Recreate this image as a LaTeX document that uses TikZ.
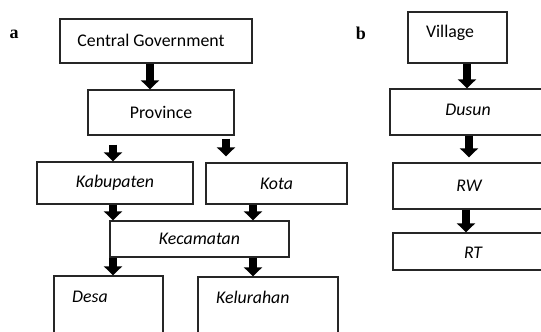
\documentclass[tikz,border=0pt]{standalone}
\usepackage{fontspec}
\setmainfont{Carlito}
\newfontfamily\labfont{Liberation Serif}
\usetikzlibrary{arrows.meta}
\begin{document}
\begin{tikzpicture}[x=1pt,y=-1pt,
  box/.style={draw=black!85, line width=1.4pt, rectangle, inner sep=0pt},
  txt/.style={font=\fontsize{17.8}{20}\selectfont, inner sep=0pt},
  itxt/.style={font=\fontsize{17.8}{20}\selectfont\itshape, inner sep=0pt},
  blk/.style={line width=7.5pt, -{Triangle[width=18pt,length=9pt]}, black},
  panel/.style={font=\labfont\bfseries\fontsize{18}{20}\selectfont, inner sep=0pt}]
\useasboundingbox (0,0) rectangle (541,332);
\clip (0,0) rectangle (541,332);
% panel labels
\node[panel] (la) at (14,34) {a};
\node[panel] (lb) at (361,33) {b};
% panel a boxes
\node[box, minimum width=192pt, minimum height=44pt] (cg) at (156,41) {};
\node[txt] (cgt) at (151,40) {Central Government};
\node[box, minimum width=146pt, minimum height=45pt, txt] (prov) at (161,112.5) {Province};
\node[box, minimum width=156pt, minimum height=42pt, itxt] (kab) at (115,183) {Kabupaten};
\node[box, minimum width=141pt, minimum height=41pt, itxt] (kota) at (276.5,183.5) {Kota};
\node[box, minimum width=179pt, minimum height=36pt, itxt] (kec) at (199.5,239) {Kecamatan};
\node[box, minimum width=109pt, minimum height=74pt] (desa) at (108.5,313) {};
\node[itxt, anchor=west] (desat) at (72,297) {Desa};
\node[box, minimum width=140pt, minimum height=73pt] (kel) at (268,313.5) {};
\node[itxt, anchor=west] (kelt) at (216,297) {Kelurahan};
% panel a arrows
\draw[blk] ([xshift=-6pt]cg.south) -- ([xshift=-11pt]prov.north);
\draw[blk] ([xshift=-48pt,yshift=-9pt]prov.south) -- ([xshift=-2pt]kab.north);
\draw[blk] ([xshift=65pt,yshift=-3pt]prov.south) -- ([xshift=-50.5pt,yshift=6pt]kota.north);
\draw[blk] ([xshift=-2pt]kab.south) -- ([xshift=-86.5pt]kec.north);
\draw[blk] ([xshift=-23.5pt]kota.south) -- ([xshift=53.5pt]kec.north);
\draw[blk] ([xshift=-86.5pt]kec.south) -- ([xshift=4.5pt]desa.north);
\draw[blk] ([xshift=53.5pt]kec.south) -- ([xshift=-15pt]kel.north);
% panel b boxes
\node[box, minimum width=99pt, minimum height=51pt] (vil) at (457.5,37.5) {};
\node[txt] (vilt) at (450,33) {Village};
\node[box, minimum width=170pt, minimum height=46pt] (dus) at (475,112) {};
\node[itxt] (dust) at (468,110) {Dusun};
\node[box, minimum width=167pt, minimum height=46pt] (rw) at (476.5,186) {};
\node[itxt] (rwt) at (469,186) {RW};
\node[box, minimum width=167pt, minimum height=37pt] (rt) at (476.5,251.5) {};
\node[itxt] (rtt) at (473,253) {RT};
% panel b arrows
\draw[blk] ([xshift=9.5pt]vil.south) -- ([xshift=-8pt]dus.north);
\draw[blk] ([xshift=-6pt]dus.south) -- ([xshift=-7.5pt,yshift=5pt]rw.north);
\draw[blk] ([xshift=-10.5pt]rw.south) -- ([xshift=-10.5pt]rt.north);
\end{tikzpicture}
\end{document}
